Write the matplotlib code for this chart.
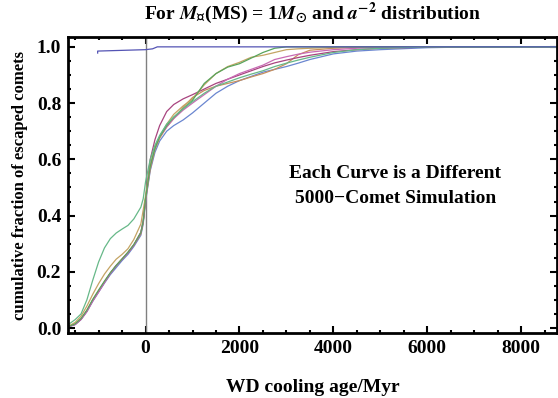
import matplotlib
matplotlib.use("Agg")
import matplotlib.pyplot as plt
from matplotlib.ticker import MultipleLocator, FormatStrFormatter

plt.rcParams["font.family"] = ["Liberation Serif", "DejaVu Serif"]
plt.rcParams["font.weight"] = "bold"
plt.rcParams["mathtext.fontset"] = "stix"

# WD cooling age grid (Myr) shared by every simulation curve
x_age = [-1650, -1500, -1375, -1250, -1125, -1000, -875, -750, -625, -500, -375, -250, -100, -50, 0,
         100, 200, 300, 450, 600, 800, 1000, 1250, 1500, 1750, 2000, 2250, 2500, 2750, 3000,
         3250, 3500, 4000, 4500, 5000, 6000, 7000, 8000, 8760]

# cumulative fraction of escaped comets, one list per simulation
frac_blue = [0.004, 0.012, 0.03, 0.058, 0.095, 0.128, 0.16, 0.19, 0.215, 0.24, 0.262, 0.29, 0.33, 0.37, 0.45,
             0.56, 0.625, 0.665, 0.70, 0.72, 0.74, 0.765, 0.80, 0.835, 0.86, 0.88, 0.895, 0.91, 0.92, 0.93,
             0.942, 0.955, 0.975, 0.985, 0.99, 0.997, 1.0, 1.0, 1.0]
frac_orange = [0.005, 0.014, 0.032, 0.062, 0.10, 0.133, 0.165, 0.195, 0.222, 0.245, 0.268, 0.295, 0.335, 0.375, 0.455,
               0.565, 0.635, 0.675, 0.715, 0.745, 0.785, 0.82, 0.845, 0.86, 0.87, 0.88, 0.893, 0.905, 0.92, 0.94,
               0.972, 0.988, 0.995, 0.998, 1.0, 1.0, 1.0, 1.0, 1.0]
frac_magenta = [0.005, 0.013, 0.031, 0.06, 0.098, 0.13, 0.163, 0.195, 0.222, 0.245, 0.268, 0.295, 0.34, 0.38, 0.46,
                0.60, 0.67, 0.72, 0.77, 0.795, 0.815, 0.83, 0.85, 0.87, 0.885, 0.90, 0.915, 0.93, 0.943, 0.953,
                0.962, 0.97, 0.983, 0.99, 0.995, 0.999, 1.0, 1.0, 1.0]
frac_pink = [0.005, 0.013, 0.031, 0.059, 0.096, 0.128, 0.162, 0.195, 0.222, 0.245, 0.268, 0.295, 0.34, 0.38, 0.455,
             0.575, 0.64, 0.68, 0.715, 0.745, 0.775, 0.80, 0.83, 0.86, 0.885, 0.905, 0.92, 0.935, 0.955, 0.965,
             0.974, 0.981, 0.99, 0.995, 0.998, 1.0, 1.0, 1.0, 1.0]
frac_tan = [0.006, 0.02, 0.042, 0.078, 0.12, 0.158, 0.192, 0.22, 0.245, 0.262, 0.282, 0.315, 0.37, 0.42, 0.47,
            0.58, 0.64, 0.68, 0.725, 0.76, 0.79, 0.815, 0.865, 0.905, 0.93, 0.945, 0.963, 0.97, 0.98, 0.99,
            0.993, 0.995, 0.998, 1.0, 1.0, 1.0, 1.0, 1.0, 1.0]
frac_green = [0.005, 0.015, 0.034, 0.064, 0.102, 0.135, 0.167, 0.197, 0.223, 0.246, 0.27, 0.297, 0.34, 0.38, 0.46,
              0.575, 0.64, 0.68, 0.72, 0.75, 0.78, 0.81, 0.87, 0.905, 0.928, 0.94, 0.96, 0.98, 0.995, 1.0,
              1.0, 1.0, 1.0, 1.0, 1.0, 1.0, 1.0, 1.0, 1.0]
frac_teal = [0.012, 0.03, 0.05, 0.10, 0.17, 0.235, 0.285, 0.318, 0.338, 0.352, 0.365, 0.388, 0.43, 0.46, 0.52,
             0.60, 0.65, 0.685, 0.725, 0.75, 0.78, 0.805, 0.835, 0.86, 0.875, 0.89, 0.903, 0.915, 0.93, 0.942,
             0.953, 0.963, 0.98, 0.99, 0.995, 1.0, 1.0, 1.0, 1.0]

curves = [frac_blue, frac_orange, frac_magenta, frac_pink, frac_tan, frac_green, frac_teal]
colors = ["#6a86d0", "#c88f5c", "#a8447f", "#c86ab4", "#c4a464", "#58a45c", "#66b888"]

# odd curve sitting near 1 from the start
top_age = [-1020, -1020, 0, 150, 250, 8760]
top_frac = [0.978, 0.985, 0.99, 0.993, 1.0, 1.0]

fig = plt.figure(figsize=(5.58, 3.98), dpi=100)
ax = fig.add_axes([0.122, 0.163, 0.876, 0.744])

ax.axvline(0, color="#808080", lw=1.0)
for frac, c in zip(curves, colors):
    ax.plot(x_age, frac, color=c, lw=0.9)
ax.plot(top_age, top_frac, color="#5454b4", lw=0.9)

ax.set_xlim(-1650, 8760)
ax.set_ylim(-0.018, 1.035)
ax.xaxis.set_major_locator(MultipleLocator(2000))
ax.xaxis.set_minor_locator(MultipleLocator(500))
ax.yaxis.set_major_locator(MultipleLocator(0.2))
ax.yaxis.set_minor_locator(MultipleLocator(0.05))
ax.yaxis.set_major_formatter(FormatStrFormatter("%.1f"))
ax.tick_params(which="both", direction="in", top=True, right=True, width=1.5, labelsize=14)
ax.tick_params(which="major", length=5, pad=5)
ax.tick_params(which="minor", length=2.5)
for s in ax.spines.values():
    s.set_linewidth(2)

ax.set_title(r"For $\boldsymbol{M}_{\bigstar}$(MS) = 1$\boldsymbol{M}_{\odot}$ and $\boldsymbol{a}^{\mathbf{-2}}$ distribution",
             fontsize=14, fontweight="bold", pad=13)
ax.set_xlabel("WD cooling age/Myr", fontsize=14, fontweight="bold", labelpad=16)
ax.set_ylabel("cumulative fraction of escaped comets", fontsize=12, fontweight="bold", labelpad=6)

ax.text(5320, 0.505, "Each Curve is a Different\n5000\u2212Comet Simulation", ha="center", va="center",
        fontsize=14, fontweight="bold", linespacing=1.6)

plt.savefig("out.png", dpi=100)
